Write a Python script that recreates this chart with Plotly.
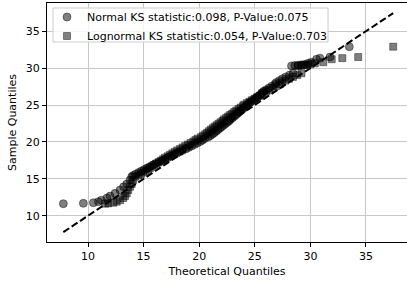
import plotly.graph_objects as go

# Sorted sample quantiles (shared by both Q-Q series)
sample_q = [
    11.63, 11.68, 11.76, 11.90, 12.10, 12.40, 12.67, 13.03, 13.48, 13.93, 14.30, 14.84, 15.28,
    15.45, 15.65, 15.85, 16.05, 16.25, 16.45, 16.65, 16.85, 17.05, 17.25, 17.45, 17.65, 17.85,
    18.05, 18.25, 18.45, 18.65, 18.85, 19.05, 19.25, 19.45, 19.65, 19.85, 20.05, 20.25, 20.45,
    20.65, 20.85, 21.05, 21.25, 21.45, 21.65, 21.85, 22.05, 22.25, 22.45, 22.65, 22.85, 23.05,
    23.25, 23.45, 23.65, 23.85, 24.05, 24.25, 24.45, 24.65, 24.85, 25.05, 25.25, 25.45, 25.65,
    25.85, 26.05, 26.25, 26.45, 26.65, 26.85, 27.05, 27.30, 27.55, 27.80, 28.05, 28.30, 28.55,
    28.80, 29.05, 29.30,
    30.30, 30.35, 30.40, 30.45, 30.50, 30.65, 30.80, 31.20, 31.35, 31.50, 32.90,
]

# Theoretical quantiles, normal fit
normal_q = [
    7.78, 9.58, 10.48, 10.93, 11.20, 11.70, 11.98, 12.43, 12.88, 13.20, 13.48, 13.78, 13.93,
    14.05, 14.30, 14.55, 14.80, 15.05, 15.30, 15.55, 15.80, 16.05, 16.35, 16.64, 16.91, 17.16,
    17.45, 17.72, 17.98, 18.24, 18.50, 18.80, 19.06, 19.32, 19.58, 19.84, 20.10, 20.30, 20.50,
    20.80, 21.00, 21.19, 21.36, 21.53, 21.69, 21.86, 22.03, 22.19, 22.36, 22.53, 22.69, 22.81,
    22.98, 23.14, 23.29, 23.45, 23.60, 23.75, 23.91, 24.06, 24.24, 24.30, 24.48, 24.66, 24.84,
    25.02, 25.20, 25.38, 25.56, 25.62, 25.80, 26.00, 26.26, 26.52, 26.80, 26.93, 27.21, 27.48,
    27.78, 28.12, 28.45,
    28.30, 28.60, 28.90, 29.20, 29.50, 29.80, 30.10, 30.55, 30.86, 31.76, 33.50,
]

# Theoretical quantiles, lognormal fit
lognormal_q = [
    11.55, 11.83, 12.28, 12.58, 12.88, 13.17, 13.33, 13.48, 13.62, 13.78, 13.93, 14.07, 14.23,
    14.54, 14.76, 14.98, 15.18, 15.37, 15.56, 15.75, 15.94, 16.13, 16.35, 16.56, 16.75, 16.92,
    17.15, 17.37, 17.58, 17.80, 18.02, 18.28, 18.51, 18.74, 18.98, 19.22, 19.47, 19.66, 19.85,
    20.15, 20.35, 20.54, 20.71, 20.88, 21.04, 21.21, 21.38, 21.55, 21.73, 21.91, 22.09, 22.23,
    22.42, 22.60, 22.78, 22.97, 23.15, 23.33, 23.53, 23.72, 23.94, 24.05, 24.28, 24.51, 24.74,
    24.97, 25.20, 25.43, 25.66, 25.82, 26.05, 26.30, 26.61, 26.92, 27.25, 27.43, 27.76, 28.08,
    28.43, 28.82, 29.20,
    28.90, 29.15, 29.40, 29.70, 30.00, 30.40, 31.16, 31.92, 32.87, 34.30, 37.45,
]

normal_label = "Normal KS statistic:0.098, P-Value:0.075"
lognormal_label = "Lognormal KS statistic:0.054, P-Value:0.703"
x_ticks = [10, 15, 20, 25, 30, 35]
y_ticks = [10, 15, 20, 25, 30, 35]

FONT = "DejaVu Sans"
mk_fill = "rgba(0,0,0,0.5)"

fig = go.Figure()
fig.add_trace(go.Scatter(
    x=normal_q, y=sample_q, mode="markers", name=normal_label,
    marker=dict(symbol="circle", size=8, color=mk_fill,
                line=dict(color=mk_fill, width=0.8)),
))
fig.add_trace(go.Scatter(
    x=lognormal_q, y=sample_q, mode="markers", name=lognormal_label,
    marker=dict(symbol="square", size=7, color=mk_fill,
                line=dict(color=mk_fill, width=0.8)),
))
lo = min(min(normal_q), min(lognormal_q))
hi = max(max(normal_q), max(lognormal_q))
fig.add_trace(go.Scatter(
    x=[lo, hi], y=[lo, hi], mode="lines", showlegend=False,
    line=dict(color="black", width=2, dash="7px,3px"),
))

# legend frame (matplotlib-style box)
fig.add_shape(
    type="rect", xref="paper", yref="paper",
    x0=0.0167, x1=0.7806, y0=0.8368, y1=0.9791,
    fillcolor="rgba(255,255,255,0.8)", line=dict(color="#cccccc", width=1),
    layer="above",
)

fig.update_layout(
    width=407, height=281,
    margin=dict(l=47, r=0, t=3, b=39, autoexpand=False),
    paper_bgcolor="white", plot_bgcolor="white",
    font=dict(family=FONT, size=11, color="black"),
    legend=dict(
        x=0.0, y=1.002, xanchor="left", yanchor="top",
        bgcolor="rgba(0,0,0,0)", borderwidth=0,
        font=dict(family=FONT, size=11, color="black"),
    ),
)
fig.update_xaxes(
    range=[6.31, 38.69], tickvals=x_ticks, ticktext=[str(t) for t in x_ticks],
    showgrid=True, gridcolor="#c8c8c8", gridwidth=1, zeroline=False,
    showline=True, linecolor="black", linewidth=1, mirror=True,
    ticks="outside", ticklen=4, tickcolor="black", automargin=False,
    tickfont=dict(color="black"),
    title=dict(text="Theoretical Quantiles", standoff=5,
               font=dict(size=11, color="black")),
)
fig.update_yaxes(
    range=[6.44, 38.82], tickvals=y_ticks, ticktext=[str(t) for t in y_ticks],
    showgrid=True, gridcolor="#c8c8c8", gridwidth=1, zeroline=False,
    showline=True, linecolor="black", linewidth=1, mirror=False,
    ticks="outside", ticklen=4, tickcolor="black", automargin=False,
    tickfont=dict(color="black"),
    title=dict(text="Sample Quantiles", standoff=6,
               font=dict(size=11, color="black")),
)

fig.write_html(
    "out.html",
    config={"displayModeBar": False},
    post_script="document.body.style.margin='0';document.body.style.padding='0';",
)
